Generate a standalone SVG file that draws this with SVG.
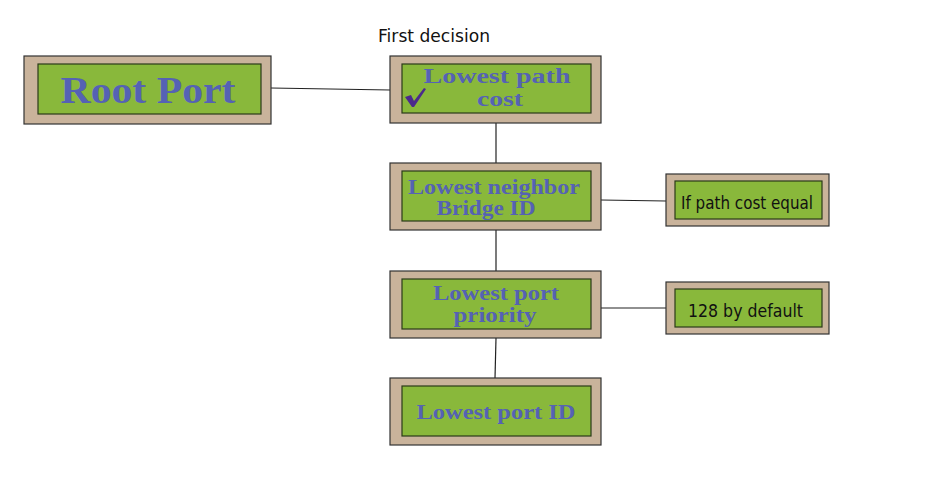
<svg xmlns="http://www.w3.org/2000/svg" width="934" height="489" viewBox="0 0 934 489">
<style>
.outer{fill:#c9b39b;stroke:#333;stroke-width:1.2}
.inner{fill:#89b83b;stroke:#2a3a1a;stroke-width:1.2}
.big{font-family:"Liberation Serif",serif;font-weight:bold;fill:#5562b4;text-anchor:middle}
.hand{font-family:"DejaVu Sans","Liberation Sans",sans-serif;fill:#111;}
.conn{stroke:#222;stroke-width:1.2;fill:none}
</style>
<rect width="934" height="489" fill="#fff"/>
<g id="connectors">
<path class="conn" d="M271 88 L390 90"/>
<path class="conn" d="M496 123 L496 163"/>
<path class="conn" d="M496 230 L496 271"/>
<path class="conn" d="M496 338 L495 378"/>
<path class="conn" d="M601 200 L666 201"/>
<path class="conn" d="M601 308 L666 308"/>
</g>
<text id="first-decision" class="hand" x="378" y="42" font-size="17" textLength="112" lengthAdjust="spacingAndGlyphs">First decision</text>
<g id="root-port">
<rect class="outer" x="24" y="56" width="247" height="68"/>
<rect class="inner" x="38" y="64" width="223" height="50"/>
<text class="big" x="148" y="103" font-size="38" textLength="175" lengthAdjust="spacingAndGlyphs">Root Port</text>
</g>
<g id="lowest-path-cost">
<rect class="outer" x="390" y="56" width="211" height="67"/>
<rect class="inner" x="402" y="64" width="189" height="49"/>
<text class="big" x="497" y="83" font-size="20" textLength="147" lengthAdjust="spacingAndGlyphs">Lowest path</text>
<text class="big" x="500" y="106" font-size="20" textLength="46" lengthAdjust="spacingAndGlyphs">cost</text>
<path d="M405 97 L411 95 L414 101 L424 88 L426 89 L414 107 L412 107 Z" fill="#4b2a8c"/>
</g>
<g id="lowest-neighbor-bridge-id">
<rect class="outer" x="390" y="163" width="211" height="67"/>
<rect class="inner" x="402" y="171" width="189" height="50"/>
<text class="big" x="494" y="194" font-size="20" textLength="172" lengthAdjust="spacingAndGlyphs">Lowest neighbor</text>
<text class="big" x="486" y="215" font-size="20" textLength="99" lengthAdjust="spacingAndGlyphs">Bridge ID</text>
</g>
<g id="lowest-port-priority">
<rect class="outer" x="390" y="271" width="211" height="67"/>
<rect class="inner" x="402" y="279" width="189" height="50"/>
<text class="big" x="496" y="300" font-size="20" textLength="126" lengthAdjust="spacingAndGlyphs">Lowest port</text>
<text class="big" x="495" y="322" font-size="20" textLength="83" lengthAdjust="spacingAndGlyphs">priority</text>
</g>
<g id="lowest-port-id">
<rect class="outer" x="390" y="378" width="211" height="67"/>
<rect class="inner" x="402" y="386" width="189" height="50"/>
<text class="big" x="496" y="419" font-size="21" textLength="159" lengthAdjust="spacingAndGlyphs">Lowest port ID</text>
</g>
<g id="if-path-cost-equal">
<rect class="outer" x="666" y="174" width="163" height="52"/>
<rect class="inner" x="675" y="181" width="147" height="38"/>
<text class="hand" x="681" y="209" font-size="17" textLength="132" lengthAdjust="spacingAndGlyphs">If path cost equal</text>
</g>
<g id="default-128">
<rect class="outer" x="666" y="282" width="163" height="52"/>
<rect class="inner" x="675" y="289" width="147" height="38"/>
<text class="hand" x="688" y="317" font-size="17" textLength="115" lengthAdjust="spacingAndGlyphs">128 by default</text>
</g>
</svg>
